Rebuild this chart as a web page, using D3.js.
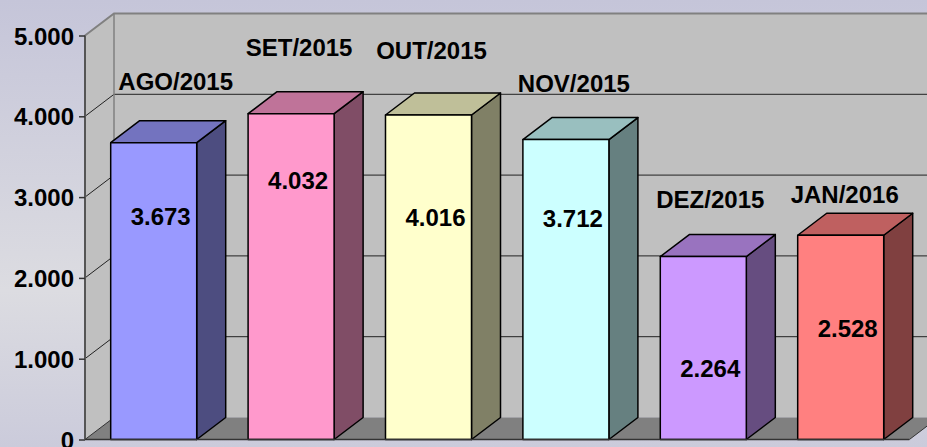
<!DOCTYPE html>
<html>
<head>
<meta charset="utf-8">
<script src="https://cdn.jsdelivr.net/npm/d3@7"></script>
<style>
  html, body { margin: 0; padding: 0; overflow: hidden; }
  svg { display: block; }
  text { font-family: "Liberation Sans", Arial, sans-serif; font-weight: bold; font-size: 24px; fill: #000; }
</style>
</head>
<body>
<svg id="chart"></svg>
<script>
// data
const months = ["AGO/2015", "SET/2015", "OUT/2015", "NOV/2015", "DEZ/2015", "JAN/2016"];
const values = [3673, 4032, 4016, 3712, 2264, 2528];
const barColors = ["#9999ff", "#ff99cc", "#ffffcc", "#ccffff", "#cc99ff", "#ff8080"];
const yTicks = [0, 1000, 2000, 3000, 4000, 5000];

// layout
const W = 927, H = 447;
const depth = { dx: 29, dy: -22 };
// manual label nudges (the labels were moved by hand in the original)
const catNudge = [[16, -3], [2, -8], [-3, -6], [2, 2], [1, 1], [-2, 18]];
const valNudge = [0, -7, 29, 5, 38, 20];

const fmt = d => d3.format(",")(d).replace(/,/g, ".");

const svg = d3.select("#chart").attr("width", W).attr("height", H);

const defs = svg.append("defs");
const bg = defs.append("linearGradient").attr("id", "bg")
  .attr("x1", 0).attr("y1", 0).attr("x2", 0).attr("y2", 1);
bg.append("stop").attr("offset", "0%").attr("stop-color", "#c5c5d9");
bg.append("stop").attr("offset", "65%").attr("stop-color", "#dcdce1");
bg.append("stop").attr("offset", "100%").attr("stop-color", "#cbcbdb");

svg.append("rect").attr("width", W).attr("height", H).attr("fill", "url(#bg)");

const x = d3.scaleBand()
  .domain(months)
  .range([85, 909.4])
  .paddingInner(0.374)
  .paddingOuter(0.187);

const y = d3.scaleLinear().domain([0, 5000]).range([439.5, 35.5]);

const x0 = x.range()[0], x1 = x.range()[1];
const yTop = y(5000), yBot = y(0);
const line = d3.line();

// back wall
svg.append("path")
  .attr("d", line([[x0 + depth.dx, yTop + depth.dy], [x1 + depth.dx, yTop + depth.dy],
                   [x1 + depth.dx, yBot + depth.dy], [x0 + depth.dx, yBot + depth.dy]]) + "Z")
  .attr("fill", "#c0c0c0");

// left wall
svg.append("path")
  .attr("d", line([[x0, yTop], [x0 + depth.dx, yTop + depth.dy],
                   [x0 + depth.dx, yBot + depth.dy], [x0, yBot]]) + "Z")
  .attr("fill", "#c0c0c0");

// floor
svg.append("path")
  .attr("d", line([[x0, yBot], [x0 + depth.dx, yBot + depth.dy],
                   [x1 + depth.dx, yBot + depth.dy], [x1, yBot]]) + "Z")
  .attr("fill", "#808080");

// gridlines on walls
const grid = svg.append("g").attr("stroke", "#222").attr("stroke-width", 1).attr("fill", "none");
yTicks.filter(t => t > 0 && t < 5000).forEach(t => {
  grid.append("path").attr("d", line([[x0, y(t)], [x0 + depth.dx, y(t) + depth.dy], [x1 + depth.dx, y(t) + depth.dy]]));
});

// wall borders
svg.append("path")
  .attr("d", line([[x0, yTop], [x0 + depth.dx, yTop + depth.dy], [x1 + depth.dx, yTop + depth.dy]]))
  .attr("fill", "none").attr("stroke", "#808080").attr("stroke-width", 2);
svg.append("path")
  .attr("d", line([[x0 + depth.dx, yTop + depth.dy], [x0 + depth.dx, yBot + depth.dy]]))
  .attr("fill", "none").attr("stroke", "#808080").attr("stroke-width", 1.5);
svg.append("path")
  .attr("d", line([[x0, yBot], [x0 + depth.dx, yBot + depth.dy]]))
  .attr("fill", "none").attr("stroke", "#333").attr("stroke-width", 1);
svg.append("path")
  .attr("d", line([[x1, yBot], [x1 + depth.dx, yBot + depth.dy]]))
  .attr("fill", "none").attr("stroke", "#333").attr("stroke-width", 1);

// bars
const bw = x.bandwidth();
const bars = svg.append("g").selectAll("g").data(values).join("g")
  .attr("stroke", "#000").attr("stroke-width", 1.5).attr("stroke-linejoin", "round");

bars.append("path") // side
  .attr("d", (d, i) => {
    const r = x(months[i]) + bw;
    return line([[r, y(d)], [r + depth.dx, y(d) + depth.dy], [r + depth.dx, yBot + depth.dy], [r, yBot]]) + "Z";
  })
  .attr("fill", (d, i) => d3.rgb(barColors[i]).darker(2 * Math.log(2) / Math.log(1 / 0.7) / 2));

bars.append("path") // top
  .attr("d", (d, i) => {
    const l = x(months[i]);
    return line([[l, y(d)], [l + depth.dx, y(d) + depth.dy], [l + bw + depth.dx, y(d) + depth.dy], [l + bw, y(d)]]) + "Z";
  })
  .attr("fill", (d, i) => {
    const c = d3.rgb(barColors[i]);
    return d3.rgb(c.r * 0.75, c.g * 0.75, c.b * 0.75);
  });

bars.append("rect") // front
  .attr("x", (d, i) => x(months[i]))
  .attr("y", d => y(d))
  .attr("width", bw)
  .attr("height", d => yBot - y(d))
  .attr("fill", (d, i) => barColors[i]);

// recolour sides as half of front
bars.select("path").attr("fill", (d, i) => {
  const c = d3.rgb(barColors[i]);
  return d3.rgb(c.r * 0.5, c.g * 0.5, c.b * 0.5);
});

// axes lines
svg.append("line").attr("x1", x0).attr("x2", x0).attr("y1", yTop).attr("y2", yBot)
  .attr("stroke", "#555").attr("stroke-width", 2);
svg.append("line").attr("x1", x0).attr("x2", x1).attr("y1", yBot).attr("y2", yBot)
  .attr("stroke", "#333").attr("stroke-width", 1.5);

// y axis ticks and labels
const yAxis = svg.append("g").attr("transform", `translate(${x0},0)`)
  .call(d3.axisLeft(y).tickValues(yTicks).tickSize(6).tickPadding(6).tickFormat(fmt));
yAxis.select(".domain").remove();
yAxis.selectAll(".tick line").attr("stroke", "#333").attr("stroke-width", 1.5);
yAxis.selectAll(".tick text")
  .attr("font-family", null).attr("font-size", null)
  .attr("dy", "0.36em").attr("dx", "1");

// category labels
svg.append("g").selectAll("text").data(months).join("text")
  .attr("x", (d, i) => x(d) + bw / 2 + 6 + catNudge[i][0])
  .attr("y", (d, i) => y(values[i]) - 50 + catNudge[i][1])
  .attr("text-anchor", "middle")
  .text(d => d);

// value labels
svg.append("g").selectAll("text").data(values).join("text")
  .attr("x", (d, i) => x(months[i]) + bw - 6)
  .attr("y", (d, i) => y(d) + 82 + valNudge[i])
  .attr("text-anchor", "end")
  .text(d => fmt(d));
</script>
</body>
</html>
